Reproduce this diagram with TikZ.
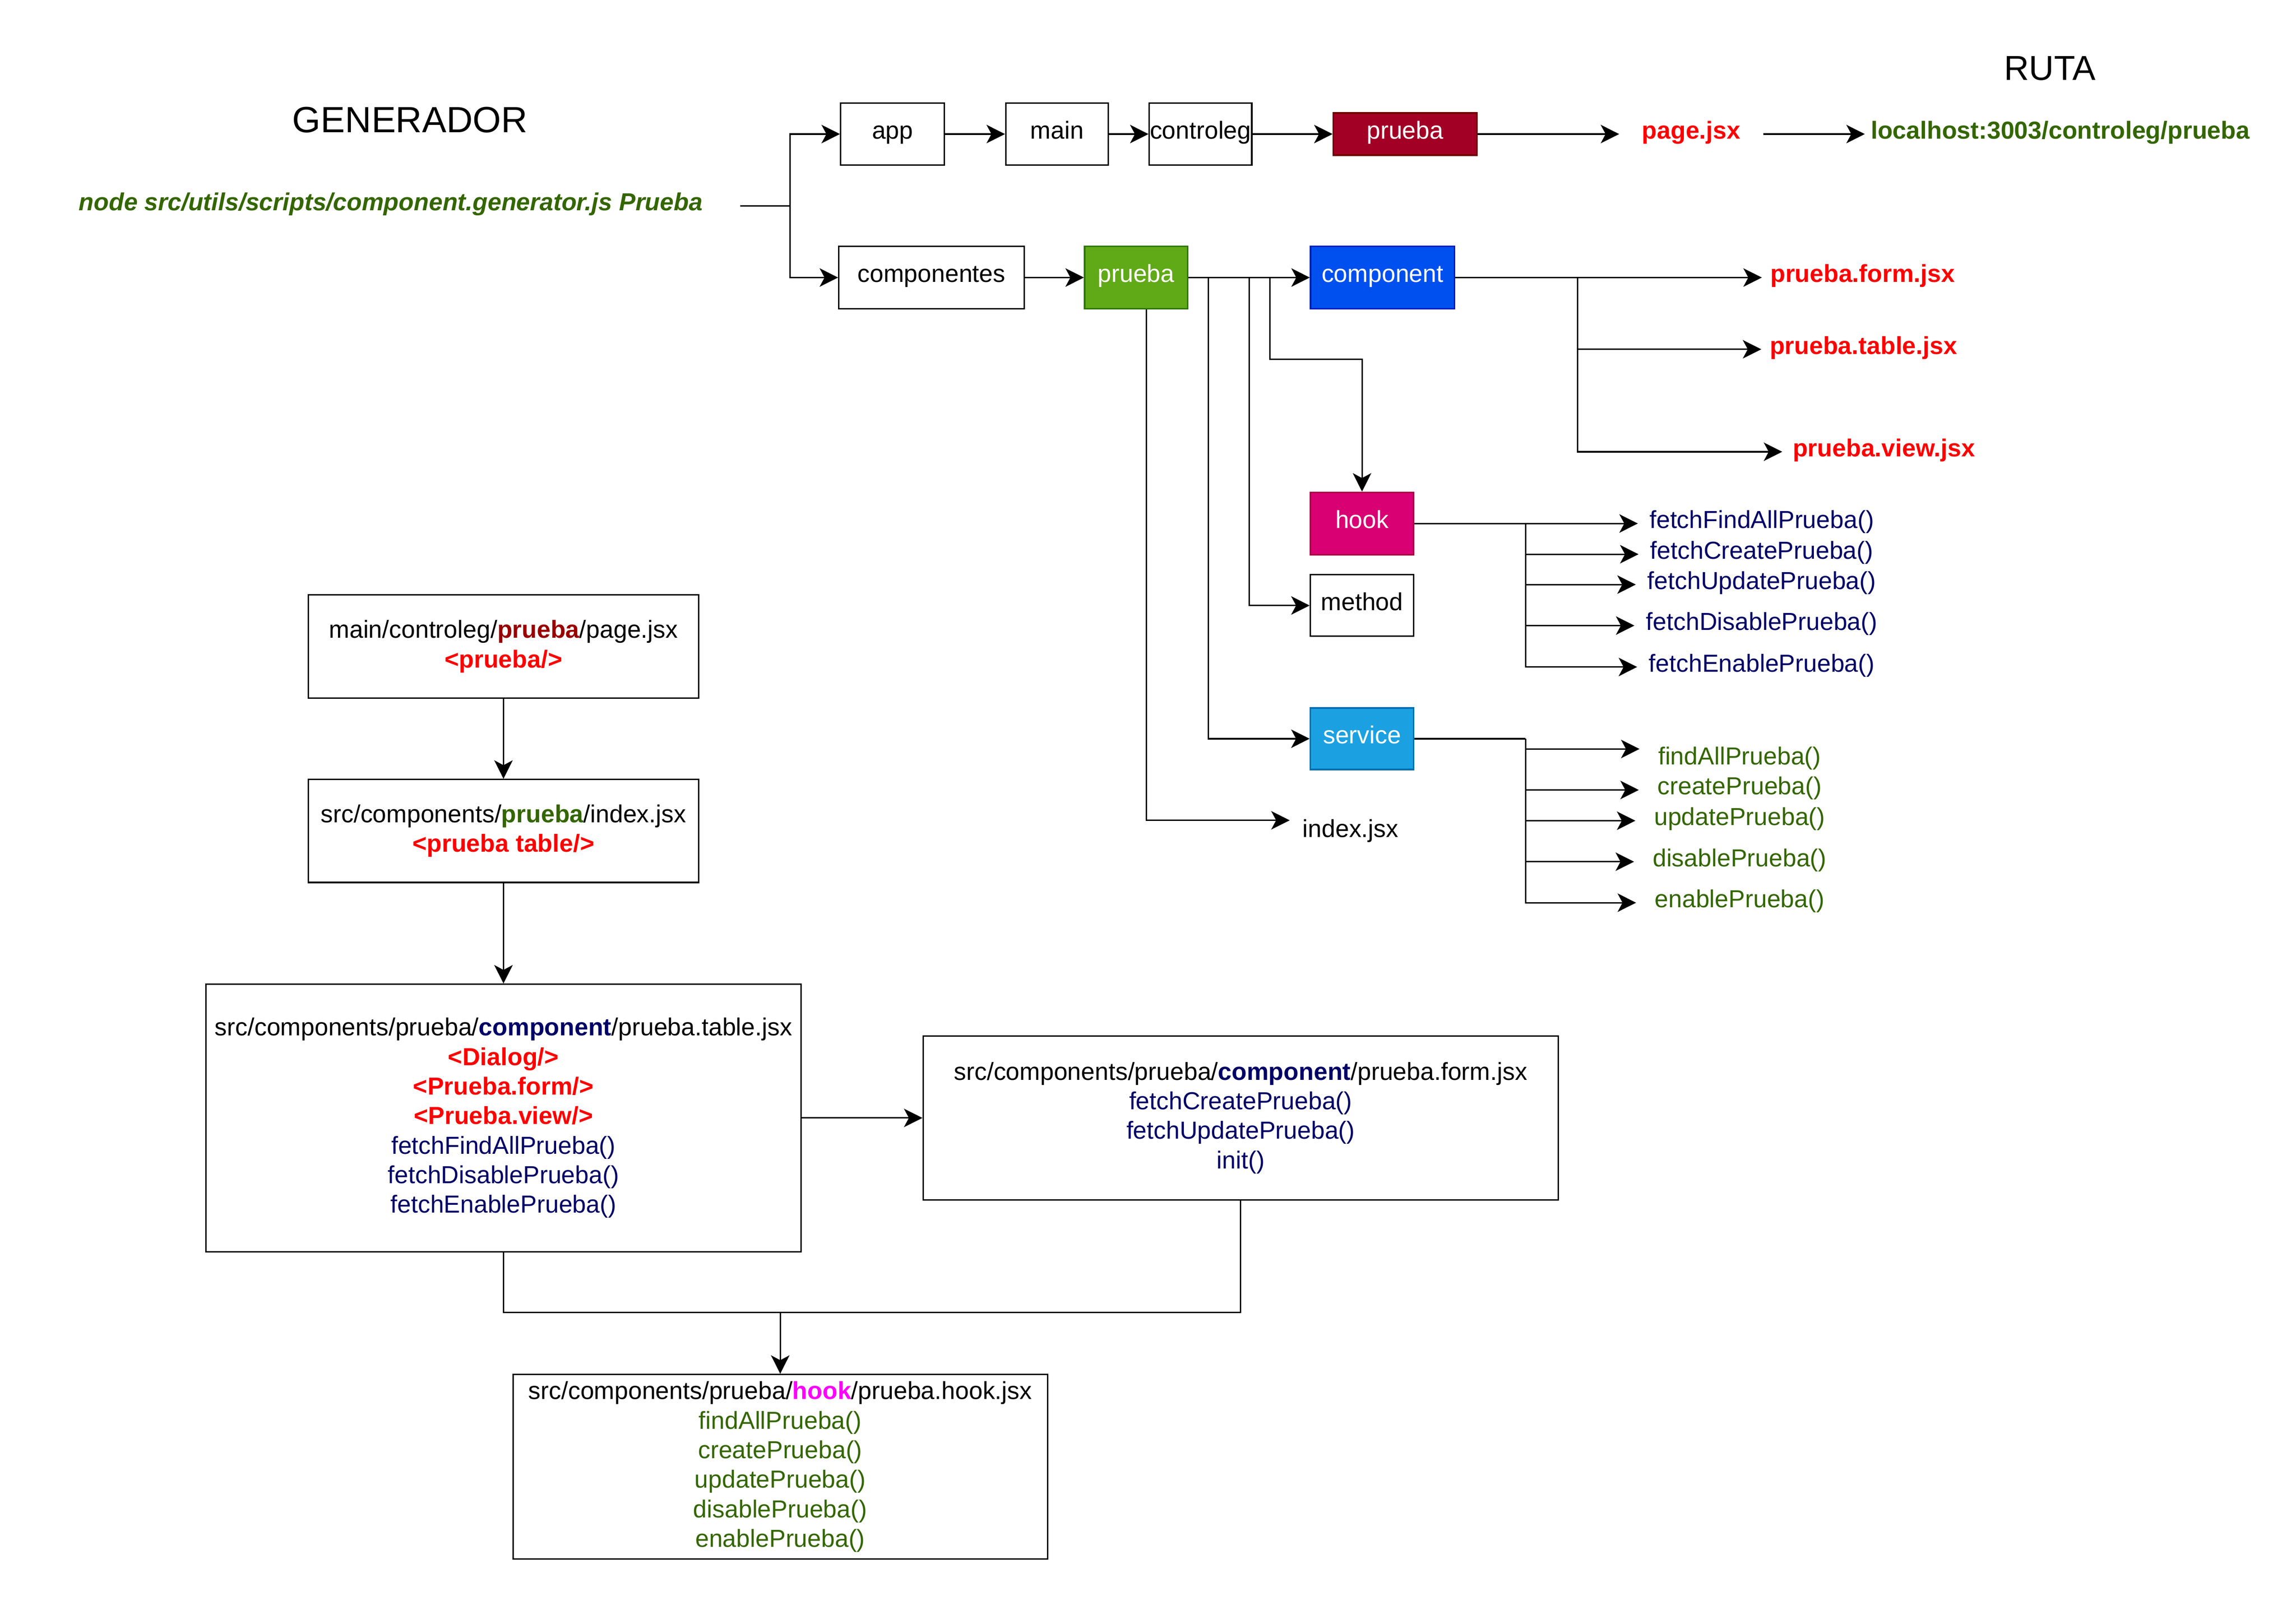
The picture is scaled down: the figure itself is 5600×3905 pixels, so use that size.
\documentclass[tikz,border=0pt]{standalone}
\usepackage{fontspec}
\setmainfont{Liberation Sans}
\usetikzlibrary{arrows.meta}

\definecolor{crimson}{HTML}{A20025}
\definecolor{crimsonline}{HTML}{6F0000}
\definecolor{leaf}{HTML}{60A917}
\definecolor{leafline}{HTML}{2D7600}
\definecolor{cobalt}{HTML}{0050EF}
\definecolor{cobaltline}{HTML}{001DBC}
\definecolor{hookfill}{HTML}{D80073}
\definecolor{hookline}{HTML}{A50040}
\definecolor{servicefill}{HTML}{1BA1E2}
\definecolor{serviceline}{HTML}{006EAF}
\definecolor{txtred}{HTML}{FF0000}
\definecolor{txtgreen}{HTML}{336600}
\definecolor{txtnavy}{HTML}{000066}
\definecolor{txtdarkred}{HTML}{990000}
\definecolor{txtpink}{HTML}{FF00FF}

\tikzset{
	dirbox/.style={draw, line width=1pt, inner sep=0pt, font=\fontsize{17.07}{20.5}\selectfont, text height=12pt, text depth=5.4pt},
	filebox/.style={draw, line width=1pt, inner sep=0pt, align=center, font=\fontsize{17.07}{20.5}\selectfont},
	lbl/.style={inner ysep=0pt, font=\fontsize{17.07}{20.5}\selectfont, text height=12pt, text depth=5.4pt},
	title/.style={inner sep=0pt},
	wire/.style={line width=1pt},
	arr/.style={line width=1pt, -{Stealth[length=0.45cm, width=0.45cm, inset=0.12cm]}},
}

\begin{document}
\begin{tikzpicture}[x=0.01cm, y=-0.01cm]
	\path[use as bounding box, fill=white] (0,0) rectangle (5600,3905);

	\node[title, font=\fontsize{25.3}{30}\selectfont] (generador) at (1000,292) {GENERADOR};
	\node[title, font=\fontsize{24}{29}\selectfont] (ruta) at (5000,167) {RUTA};
	\node[lbl, text=txtgreen, inner xsep=0.91cm] (cmd) at (953,502) {\bfseries\itshape node src/utils/scripts/component.generator.js Prueba};

	\node[dirbox, minimum width=2.53cm, minimum height=1.51cm] (app) at (2177,327) {app};
	\node[dirbox, minimum width=2.5cm, minimum height=1.51cm] (main) at (2578,327) {main};
	\node[dirbox, minimum width=2.5cm, minimum height=1.51cm] (controleg) at (2928,327) {controleg};
	\node[dirbox, fill=crimson, draw=crimsonline, text=white, minimum width=3.5cm, minimum height=1.03cm] (pruebaroute) at (3427,327) {prueba};
	\node[lbl, text=txtred, inner xsep=0.55cm] (pagejsx) at (4125,327) {\bfseries page.jsx};
	\node[lbl, text=txtgreen, inner xsep=0.14cm] (localhost) at (5025,327) {\bfseries localhost:3003/controleg/prueba};

	\node[dirbox, minimum width=4.52cm, minimum height=1.52cm] (componentes) at (2272,677) {componentes};
	\node[dirbox, fill=leaf, draw=leafline, text=white, minimum width=2.51cm, minimum height=1.52cm] (pruebadir) at (2771,677) {prueba};
	\node[dirbox, fill=cobalt, draw=cobaltline, text=white, minimum width=3.51cm, minimum height=1.52cm] (component) at (3372,677) {component};
	\node[dirbox, fill=hookfill, draw=hookline, text=white, minimum width=2.52cm, minimum height=1.52cm] (hook) at (3322,1277) {hook};
	\node[dirbox, minimum width=2.52cm, minimum height=1.5cm] (method) at (3322,1477) {method};
	\node[dirbox, fill=servicefill, draw=serviceline, text=white, minimum width=2.52cm, minimum height=1.5cm] (service) at (3322,1802) {service};
	\node[lbl, inner xsep=0.31cm, text height=28.8pt] (indexjsx) at (3294,2001) {index.jsx};

	\node[lbl, text=txtred, inner xsep=0.2cm] (formjsx) at (4543,677) {\bfseries prueba.form.jsx};
	\node[lbl, text=txtred, inner xsep=0.2cm] (tablejsx) at (4545,852) {\bfseries prueba.table.jsx};
	\node[lbl, text=txtred, inner xsep=0.25cm] (viewjsx) at (4595,1102) {\bfseries prueba.view.jsx};

	\node[lbl, text=txtnavy, inner xsep=0.28cm] (hf1) at (4297,1277) {fetchFindAllPrueba()};
	\node[lbl, text=txtnavy, inner xsep=0.28cm] (hf2) at (4297,1352) {fetchCreatePrueba()};
	\node[lbl, text=txtnavy, inner xsep=0.28cm] (hf3) at (4297,1426) {fetchUpdatePrueba()};
	\node[lbl, text=txtnavy, inner xsep=0.28cm] (hf4) at (4297,1526) {fetchDisablePrueba()};
	\node[lbl, text=txtnavy, inner xsep=0.28cm] (hf5) at (4297,1627) {fetchEnablePrueba()};

	\node[lbl, text=txtgreen, inner xsep=0.45cm, text height=27pt] (sf1) at (4243,1827) {findAllPrueba()};
	\node[lbl, text=txtgreen, inner xsep=0.45cm] (sf2) at (4243,1927) {createPrueba()};
	\node[lbl, text=txtgreen, inner xsep=0.45cm] (sf3) at (4243,2002) {updatePrueba()};
	\node[lbl, text=txtgreen, inner xsep=0.45cm] (sf4) at (4243,2102) {disablePrueba()};
	\node[lbl, text=txtgreen, inner xsep=0.45cm] (sf5) at (4243,2202) {enablePrueba()};

	\node[filebox, minimum width=9.51cm, minimum height=2.52cm] (pagebox) at (1228,1577) {main/controleg/\textcolor{txtdarkred}{\bfseries prueba}/page.jsx\\\textcolor{txtred}{\bfseries <prueba/>}};
	\node[filebox, minimum width=9.51cm, minimum height=2.51cm] (indexbox) at (1228,2027) {src/components/\textcolor{txtgreen}{\bfseries prueba}/index.jsx\\\textcolor{txtred}{\bfseries <prueba table/>}};
	\node[filebox, minimum width=14.51cm, minimum height=6.52cm] (tablebox) at (1228,2727) {src/components/prueba/\textcolor{txtnavy}{\bfseries component}/prueba.table.jsx\\\textcolor{txtred}{\bfseries <Dialog/>}\\\textcolor{txtred}{\bfseries <Prueba.form/>}\\\textcolor{txtred}{\bfseries <Prueba.view/>}\\\textcolor{txtnavy}{fetchFindAllPrueba()}\\\textcolor{txtnavy}{fetchDisablePrueba()}\\\textcolor{txtnavy}{fetchEnablePrueba()}};
	\node[filebox, minimum width=15.48cm, minimum height=4cm] (formbox) at (3026,2727) {src/components/prueba/\textcolor{txtnavy}{\bfseries component}/prueba.form.jsx\\\textcolor{txtnavy}{fetchCreatePrueba()}\\\textcolor{txtnavy}{fetchUpdatePrueba()}\\\textcolor{txtnavy}{init()}};
	\node[filebox, minimum width=13.03cm, minimum height=4.5cm] (hookbox) at (1903,3578) {src/components/prueba/\textcolor{txtpink}{\bfseries hook}/prueba.hook.jsx\\\textcolor{txtgreen}{findAllPrueba()}\\\textcolor{txtgreen}{createPrueba()}\\\textcolor{txtgreen}{updatePrueba()}\\\textcolor{txtgreen}{disablePrueba()}\\\textcolor{txtgreen}{enablePrueba()}};

	\coordinate (gen) at (1927,502);
	\coordinate (cjun) at (3848,677);
	\coordinate (hjun) at (3721,1277);
	\coordinate (sjun) at (3721,1802);
	\coordinate (merge) at (1903,3201);

	\draw[wire] (cmd.east) -- (gen);
	\draw[arr] (gen) |- (app.west);
	\draw[arr] (gen) |- (componentes.west);
	\draw[arr] (app) -- (main);
	\draw[arr] (main) -- (controleg);
	\draw[arr] (controleg) -- (pruebaroute);
	\draw[arr] (pruebaroute.east) -- (pagejsx.west);
	\draw[arr] (pagejsx.east) -- (localhost.west);

	\draw[arr] (componentes) -- (pruebadir);
	\draw[arr] (pruebadir) -- (component);
	\draw[arr] (pruebadir.east) -- ++(199,0) -- ++(0,199) -| (hook.north);
	\draw[arr] (pruebadir.east) -- ++(149,0) |- (method.west);
	\draw[arr] (pruebadir.east) -- ++(49,0) |- (service.west);
	\draw[arr] ([xshift=0.25cm]pruebadir.south) |- (indexjsx.west);

	\draw[arr] (component.east) -- (formjsx.west);
	\draw[arr] (cjun) |- (tablejsx.west);
	\draw[arr] (cjun) |- (viewjsx.west);

	\draw[wire] (hook.east) -- (hjun);
	\draw[arr] (hjun) |- (hf1.west);
	\draw[arr] (hjun) |- (hf2.west);
	\draw[arr] (hjun) |- (hf3.west);
	\draw[arr] (hjun) |- (hf4.west);
	\draw[arr] (hjun) |- (hf5.west);

	\draw[wire] (service.east) -- (sjun);
	\draw[arr] (sjun) |- (sf1.west);
	\draw[arr] (sjun) |- (sf2.west);
	\draw[arr] (sjun) |- (sf3.west);
	\draw[arr] (sjun) |- (sf4.west);
	\draw[arr] (sjun) |- (sf5.west);

	\draw[arr] (pagebox) -- (indexbox);
	\draw[arr] (indexbox) -- (tablebox);
	\draw[arr] (tablebox) -- (formbox);
	\draw[wire] (tablebox.south) |- (merge) -| (formbox.south);
	\draw[arr] (merge) -- (hookbox.north);
\end{tikzpicture}
\end{document}
